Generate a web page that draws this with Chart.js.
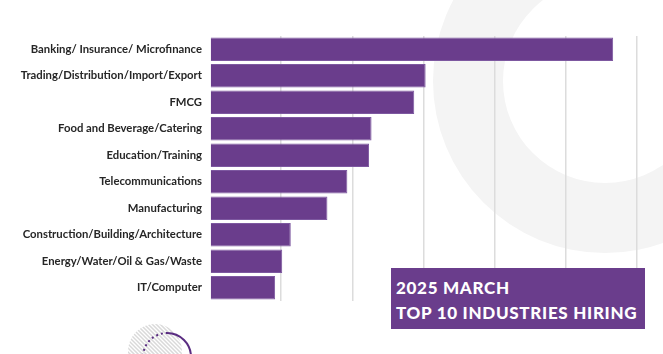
<!DOCTYPE html>
<html>
<head>
<meta charset="utf-8">
<script src="https://cdn.jsdelivr.net/npm/chart.js@4"></script>
<style>
  body { margin: 0; background: #fff; }
  #wrap { position: relative; width: 663px; height: 354px; overflow: hidden; }
  #titleBox {
    position: absolute; left: 391px; top: 268px; width: 254px; height: 61px;
    background: #6a3d8c; color: #fff; font-family: Lato, sans-serif; font-weight: 900;
    font-size: 17px; letter-spacing: 0.7px; line-height: 25px; box-sizing: border-box; padding: 7px 0 0 5px;
  }
</style>
</head>
<body>
<div id="wrap">
  <canvas id="industryChart"></canvas>
  <div id="titleBox">2025 MARCH<br>TOP 10 INDUSTRIES HIRING</div>
</div>
<script>
// industries, top to bottom
var industries = [
  'Banking/ Insurance/ Microfinance',
  'Trading/Distribution/Import/Export',
  'FMCG',
  'Food and Beverage/Catering',
  'Education/Training',
  'Telecommunications',
  'Manufacturing',
  'Construction/Building/Architecture',
  'Energy/Water/Oil & Gas/Waste',
  'IT/Computer'
];
// share of job ads (%)
var shares = [11.33, 6.06, 5.74, 4.54, 4.47, 3.86, 3.30, 2.27, 2.03, 1.83];
var axisMax = 12;
var axisStep = 2;

// background shapes: grey ring top right, hatched circle bottom left
var decor = {
  id: 'decor',
  beforeDraw: function(chart) {
    var ctx = chart.ctx;
    ctx.save();
    ctx.fillStyle = '#f4f4f4';
    ctx.beginPath();
    ctx.arc(605, 81, 172, 0, Math.PI * 2);
    ctx.arc(605, 81, 102, 0, Math.PI * 2, true);
    ctx.fill('evenodd');

    ctx.beginPath();
    ctx.arc(155, 351, 27, 0, Math.PI * 2);
    ctx.clip();
    ctx.strokeStyle = '#d9d9d9';
    ctx.lineWidth = 1.5;
    for (var i = -60; i < 60; i += 4) {
      ctx.beginPath();
      ctx.moveTo(155 + i - 40, 351 - 40);
      ctx.lineTo(155 + i + 40, 351 + 40);
      ctx.stroke();
    }
    ctx.restore();

    ctx.save();
    ctx.strokeStyle = '#5a2d82';
    ctx.lineWidth = 2;
    ctx.setLineDash([2, 3]);
    ctx.beginPath();
    ctx.arc(167, 357, 24, Math.PI * 0.95, Math.PI * 1.5);
    ctx.stroke();
    ctx.setLineDash([]);
    ctx.beginPath();
    ctx.arc(167, 357, 24, Math.PI * 1.5, Math.PI * 2.1);
    ctx.stroke();
    ctx.restore();
  }
};

new Chart(document.getElementById('industryChart'), {
  type: 'bar',
  data: {
    labels: industries,
    datasets: [{
      data: shares,
      backgroundColor: '#6a3d8c',
      borderColor: '#7d58a0',
      borderWidth: 1,
      borderSkipped: 'start',
      barPercentage: 0.89,
      categoryPercentage: 1
    }]
  },
  options: {
    indexAxis: 'y',
    responsive: true,
    maintainAspectRatio: false,
    animation: false,
    layout: { padding: { top: 36, bottom: 53, right: 26, left: 0 } },
    plugins: { legend: { display: false }, tooltip: { enabled: false } },
    scales: {
      x: {
        min: 0,
        max: axisMax,
        ticks: { display: false, stepSize: axisStep },
        border: { display: false },
        grid: {
          color: function(c) { return c.tick && c.tick.value === 0 ? 'rgba(0,0,0,0)' : '#dcdcdc'; },
          lineWidth: 1.5,
          drawTicks: false
        },
        afterFit: function(scale) { scale.height = 0; }
      },
      y: {
        grid: { display: false, drawTicks: false },
        border: { display: false },
        ticks: {
          padding: 8,
          color: '#262626',
          font: { family: 'Lato', size: 11.3, weight: 'bold' }
        },
        afterFit: function(scale) { scale.width = 210; }
      }
    }
  },
  plugins: [decor]
});
</script>
</body>
</html>
